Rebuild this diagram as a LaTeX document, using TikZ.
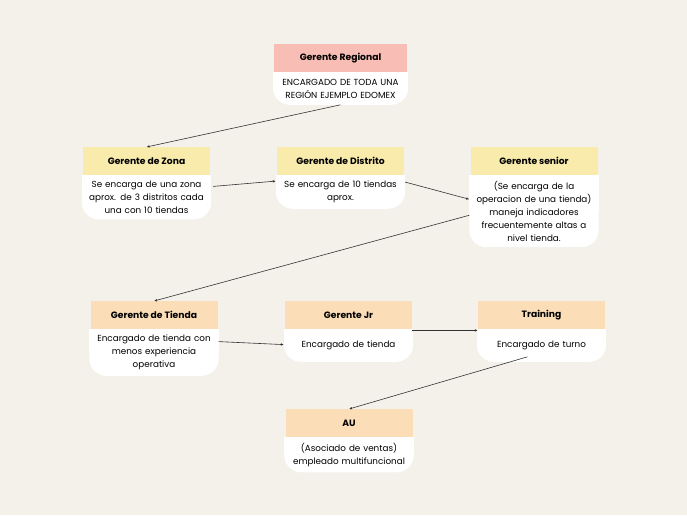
\documentclass[tikz,border=0pt]{standalone}
\usepackage{fontspec}
\setmainfont{Poppins}
\usetikzlibrary{arrows.meta}
\pgfdeclarelayer{bglayer}
\pgfdeclarelayer{cardlayer}
\pgfsetlayers{bglayer,cardlayer,main}
\definecolor{bgc}{HTML}{F4F0EA}
\definecolor{pinkh}{HTML}{F8BDB4}
\definecolor{yelh}{HTML}{F9EBAB}
\definecolor{peach}{HTML}{FBDEB8}
\definecolor{arr}{HTML}{333333}
\tikzset{
  hdr/.style={rectangle, anchor=north, minimum height=28pt, inner sep=0pt,
    font=\fontsize{9.2}{11}\selectfont\bfseries, text=black},
  bdy/.style={rectangle, anchor=north, minimum height=32pt, inner xsep=4pt, inner ysep=5.5pt,
    align=center, font=\fontsize{8.8}{13}\selectfont, text=black},
  conn/.style={draw=arr, line width=0.6pt, -{Latex[length=3pt,width=2.6pt]}}
}
\newcommand\mycard[8]{%
  \node[hdr, fill=#5, minimum width=#4] (#1H) at (#2,#3) {#6};
  \node[bdy, text width=#8, minimum width=#4] (#1B) at (#1H.south) {#7};
  \begin{pgfonlayer}{cardlayer}
    \fill[white, rounded corners=17pt] (#1B.north west) rectangle (#1B.south east);
    \fill[white] (#1B.north west) rectangle (#1B.east);
  \end{pgfonlayer}
}
\begin{document}
\begin{tikzpicture}[x=1pt,y=-1pt]
\begin{pgfonlayer}{bglayer}
\fill[bgc] (0,0) rectangle (687,515);
\end{pgfonlayer}
\useasboundingbox (0,0) rectangle (687,515);

\mycard{reg}{340.5}{44}{133pt}{pinkh}{Gerente Regional}{ENCARGADO DE TODA UNA\\REGIÓN EJEMPLO EDOMEX}{127pt}
\mycard{zona}{146.5}{147}{127pt}{yelh}{Gerente de Zona}{Se encarga de una zona\\aprox. de 3 distritos cada\\una con 10 tiendas}{121pt}
\mycard{dist}{340.5}{147}{127pt}{yelh}{Gerente de Distrito}{Se encarga de 10 tiendas\\aprox.}{121pt}
\mycard{sen}{534}{147}{127pt}{yelh}{Gerente senior}{(Se encarga de la\\operacion de una tienda)\\maneja indicadores\\frecuentemente altas a\\nivel tienda.}{121pt}
\mycard{tie}{154}{301}{127pt}{peach}{Gerente de Tienda}{Encargado de tienda con\\menos experiencia\\operativa}{121pt}
\mycard{jr}{348.5}{301}{127pt}{peach}{Gerente Jr}{Encargado de tienda}{121pt}
\mycard{tr}{541.5}{301}{127pt}{peach}{Training}{Encargado de turno}{121pt}
\mycard{au}{349}{409}{127pt}{peach}{AU}{(Asociado de ventas)\\empleado multifuncional}{121pt}

\draw[conn] (regB.south) -- (zonaH.north);
\draw[conn] ([xshift=2pt,yshift=11pt]zonaB.east) -- ([yshift=11pt]distB.west);
\draw[conn] ([yshift=10pt]distB.east) -- ([yshift=12pt]senB.west);
\draw[conn] ([yshift=-4pt]senB.west) -- (tieH.north);
\draw[conn] ([yshift=11pt]tieB.east) -- ([yshift=1pt]jrB.west);
\draw[conn] ([yshift=-1pt]jrH.south east) -- ([yshift=-1pt]trH.south west);
\draw[conn] ([xshift=-14pt,yshift=5pt]trB.south) -- (auH.north);
\end{tikzpicture}
\end{document}
